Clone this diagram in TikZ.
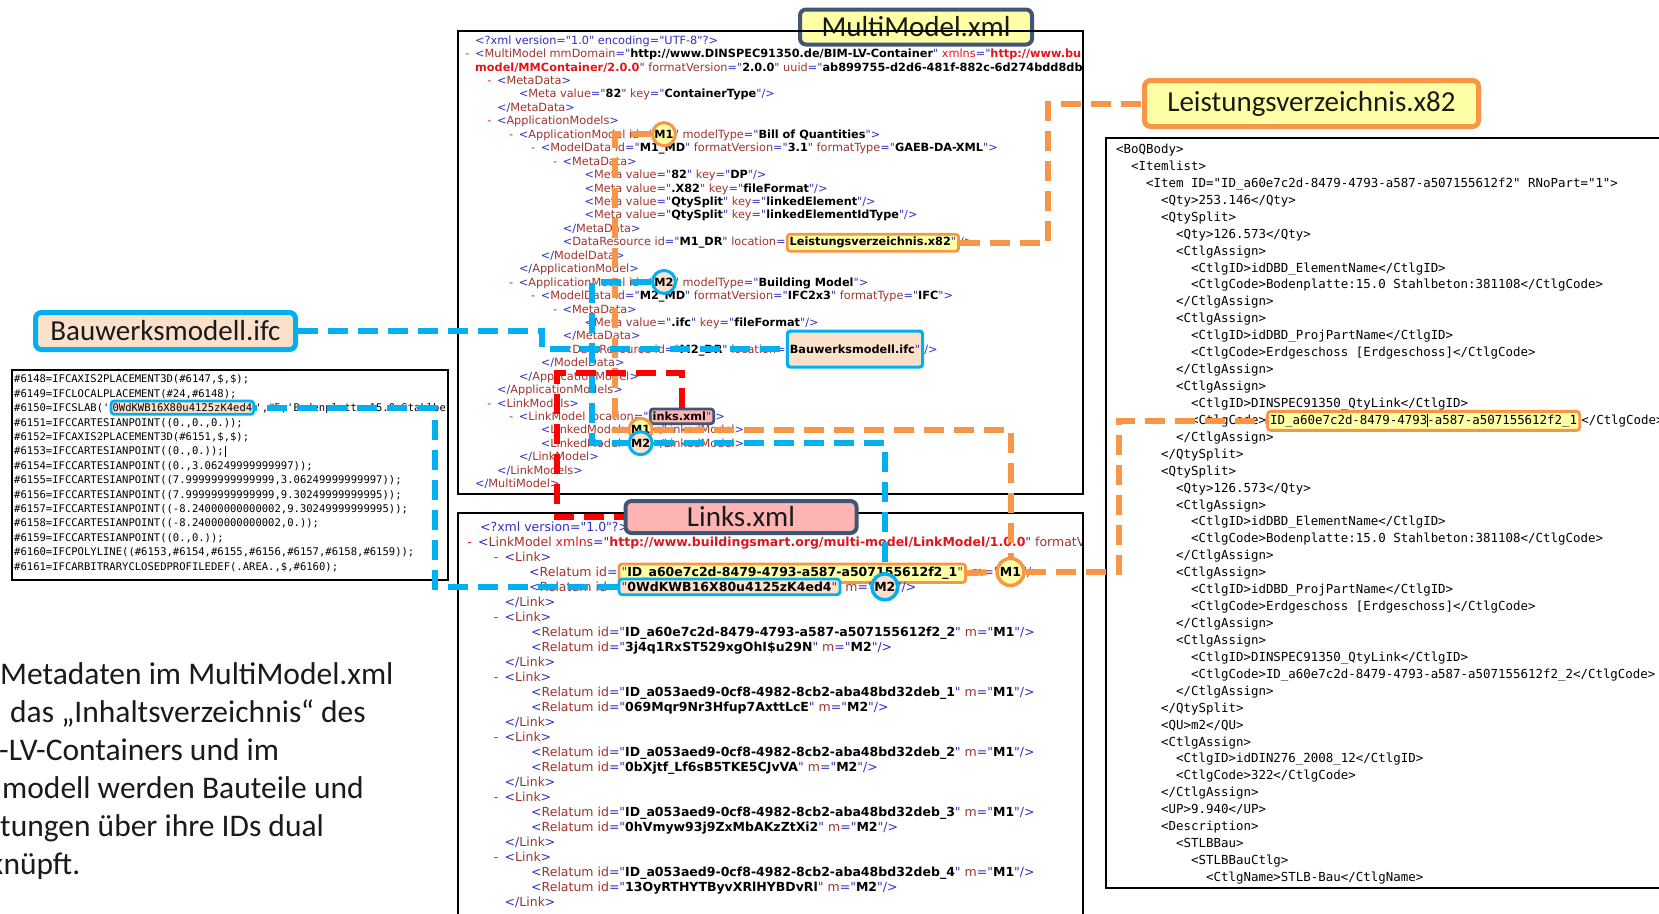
\documentclass[tikz,border=0pt]{standalone}
\usepackage{fontspec}
\setmainfont{Carlito}
\newfontfamily\xmlf{DejaVu Sans}[Ligatures={TeXOff,CommonOff}]
\newfontfamily\monof{DejaVu Sans Mono}[Ligatures={TeXOff,CommonOff}]

\definecolor{cOr}{HTML}{F79646}
\definecolor{cBl}{HTML}{00B0F0}
\definecolor{cRd}{HTML}{FF0000}
\definecolor{cSlate}{HTML}{3F5675}
\definecolor{cYel}{HTML}{FFFFA5}
\definecolor{cPeach}{HTML}{FBE1CB}
\definecolor{cPink}{HTML}{FFB4B4}
\definecolor{cInk}{HTML}{1A1A1A}
\definecolor{xbl}{HTML}{3030C0}
\definecolor{xrd}{HTML}{A0332E}
\definecolor{xns}{HTML}{E5141B}

% XML viewer syntax colouring
\newcommand\xBl[1]{\textcolor{xbl}{#1}}
\newcommand\xRd[1]{\textcolor{xrd}{#1}}
\newcommand\xV[1]{\textbf{#1}}
\newcommand\xNs[1]{\textcolor{xns}{\textbf{#1}}}
\newcommand\xMi{\textcolor{xns}{-}\hspace{0.5em}}
\newcommand\xO[1]{\xBl{<}\xRd{#1}}
\newcommand\xC[1]{\xBl{</}\xRd{#1}\xBl{>}}
\newcommand\xA[2]{\ \xRd{#1}\xBl{="}\xV{#2}\xBl{"}}
\newcommand\xG{\xBl{>}}
\newcommand\xE{\xBl{/>}}

\newcommand\fMM{\xmlf\fontsize{11.3}{13.4}\selectfont}
\newcommand\fMMb{\xmlf\bfseries\fontsize{11.3}{13.4}\selectfont}
\newcommand\fLK{\xmlf\fontsize{12.5}{15}\selectfont}
\newcommand\fLKb{\xmlf\bfseries\fontsize{12.5}{15}\selectfont}

\tikzset{
  mmt/.style={inner sep=0pt, anchor=base west, font=\fMM},
  lkt/.style={inner sep=0pt, anchor=base west, font=\fLK},
  ifct/.style={inner sep=0pt, anchor=base west, font=\monof\fontsize{10.55}{14.4}\selectfont},
  bqt/.style={inner sep=0pt, anchor=base west, font=\monof\fontsize{12.44}{16.9}\selectfont},
  para/.style={inner sep=0pt, anchor=base west, text=cInk, font=\fontsize{31.5}{38}\selectfont},
  hlbox/.style={rounded corners=3pt, line width=2.8pt, inner xsep=2.5pt, inner ysep=3pt, anchor=base west},
  hlor/.style={hlbox, draw=cOr, fill=cYel},
  hlbl/.style={hlbox, draw=cBl, fill=cPeach},
  hlsl/.style={hlbox, draw=cSlate, fill=cPink},
  ring/.style={circle, inner sep=0pt, line width=3pt},
  ringor/.style={ring, draw=cOr, fill=cYel},
  ringbl/.style={ring, draw=cBl, fill=cPeach},
  panel/.style={draw=black, line width=1.8pt},
  tag/.style={rounded corners=6pt, line width=4pt, text=cInk, inner sep=0pt,
              font=\fontsize{29}{34}\selectfont},
  link/.style={line width=6pt, dash pattern=on 20pt off 10pt},
  lkor/.style={link, draw=cOr},
  lkbl/.style={link, draw=cBl},
  lkrd/.style={link, draw=cRd},
}

% one line of code per panel: level, row, text
\newcommand\mmrow[3]{\node[mmt] at ({475+21.9*(#1)},{44.2+13.44*((#2)-1)}) {#3};}
\newcommand\mmrowd[3]{\node[mmt] at ({465.2+21.9*(#1)},{44.2+13.44*((#2)-1)}) {\xMi#3};}
\newcommand\lkrow[3]{\node[lkt] at ({478+26.5*(#1)},{531.5+15*((#2)-1)}) {#3};}
\newcommand\lkrowd[3]{\node[lkt] at ({467.2+26.5*(#1)},{531.5+15*((#2)-1)}) {\xMi#3};}
\newcommand\ifrow[2]{\node[ifct] at (14,{382.8+14.4*((#1)-1)}) {#2};}
\newcommand\bqrow[3]{\node[bqt] at ({1116+14.98*(#1)},{153.5+16.93*((#2)-1)}) {#3};}

\begin{document}
\begin{tikzpicture}[x=1pt,y=-1pt]
\useasboundingbox (0,0) rectangle (1659,913);
\fill[white] (0,0) rectangle (1659,913);

% ---------------- MultiModel.xml listing ----------------
\begin{scope}
\clip (458,31) rectangle (1083,494);
\mmrow{0}{1}{\xBl{<?xml version="1.0" encoding="UTF-8"?>}}
\mmrowd{0}{2}{\xO{MultiModel}\xA{mmDomain}{http://www.DINSPEC91350.de/BIM-LV-Container}\ \textcolor{xns}{xmlns}\xBl{="}\xNs{http://www.buildingsmart.org/multi-}}
\mmrow{0}{3}{\xNs{model/MMContainer/2.0.0}\xBl{"}\xA{formatVersion}{2.0.0}\xA{uuid}{ab899755-d2d6-481f-882c-6d274bdd8db3}\xBl{">}}
\mmrowd{1}{4}{\xO{MetaData}\xG}
\mmrow{2}{5}{\xO{Meta}\xA{value}{82}\xA{key}{ContainerType}\xE}
\mmrow{1}{6}{\xC{MetaData}}
\mmrowd{1}{7}{\xO{ApplicationModels}\xG}
\node[mmt] (r8a) at ({465.2+21.9*2},{44.2+13.44*7}) {\xMi\xO{ApplicationModel}\ \xRd{id}\xBl{="}};
\node[mmt] (r8m) at (r8a.base east) {\xV{M1}};
\node[mmt] at (r8m.base east) {\xBl{"}\xA{modelType}{Bill of Quantities}\xG};
\mmrowd{3}{9}{\xO{ModelData}\xA{id}{M1\_MD}\xA{formatVersion}{3.1}\xA{formatType}{GAEB-DA-XML}\xG}
\mmrowd{4}{10}{\xO{MetaData}\xG}
\mmrow{5}{11}{\xO{Meta}\xA{value}{82}\xA{key}{DP}\xE}
\mmrow{5}{12}{\xO{Meta}\xA{value}{.X82}\xA{key}{fileFormat}\xE}
\mmrow{5}{13}{\xO{Meta}\xA{value}{QtySplit}\xA{key}{linkedElement}\xE}
\mmrow{5}{14}{\xO{Meta}\xA{value}{QtySplit}\xA{key}{linkedElementIdType}\xE}
\mmrow{4}{15}{\xC{MetaData}}
\node[mmt] (r16a) at ({475+21.9*4},{44.2+13.44*15}) {\xO{DataResource}\xA{id}{M1\_DR}\ \xRd{location}\xBl{=}};
\node[mmt, hlor] (mmLV) at (r16a.base east) {\xV{Leistungsverzeichnis.x82}\xBl{"}};
\node[mmt] at (mmLV.base east) {\xE};
\mmrow{3}{17}{\xC{ModelData}}
\mmrow{2}{18}{\xC{ApplicationModel}}
\node[mmt] (r19a) at ({465.2+21.9*2},{44.2+13.44*18}) {\xMi\xO{ApplicationModel}\ \xRd{id}\xBl{="}};
\node[mmt] (r19m) at (r19a.base east) {\xV{M2}};
\node[mmt] at (r19m.base east) {\xBl{"}\xA{modelType}{Building Model}\xG};
\mmrowd{3}{20}{\xO{ModelData}\xA{id}{M2\_MD}\xA{formatVersion}{IFC2x3}\xA{formatType}{IFC}\xG}
\mmrowd{4}{21}{\xO{MetaData}\xG}
\mmrow{5}{22}{\xO{Meta}\xA{value}{.ifc}\xA{key}{fileFormat}\xE}
\mmrow{4}{23}{\xC{MetaData}}
\node[mmt] (r24a) at ({475+21.9*4},{44.2+13.44*23}) {\xO{DataResource}\xA{id}{M2\_DR}\ \xRd{location}\xBl{=}};
\node[mmt, hlbl, minimum height=36pt, line width=3.2pt] (mmBW) at (r24a.base east) {\xV{Bauwerksmodell.ifc}\xBl{"}};
\node[mmt] at (mmBW.base east) {\xE};
\mmrow{3}{25}{\xC{ModelData}}
\mmrow{2}{26}{\xC{ApplicationModel}}
\mmrow{1}{27}{\xC{ApplicationModels}}
\mmrowd{1}{28}{\xO{LinkModels}\xG}
\node[mmt] (r29a) at ({465.2+21.9*2},{44.2+13.44*28}) {\xMi\xO{LinkModel}\ \xRd{location}\xBl{="}};
\node[mmt, hlsl] (mmLK) at (r29a.base east) {\xV{inks.xml}\xBl{"}};
\node[mmt] at (mmLK.base east) {\xG};
\node[mmt] (r30a) at ({475+21.9*3},{44.2+13.44*29}) {\xO{LinkedModel}\xG};
\node[mmt] (r30m) at (r30a.base east) {\xV{M1}};
\node[mmt] at (r30m.base east) {\xC{LinkedModel}};
\node[mmt] (r31a) at ({475+21.9*3},{44.2+13.44*30}) {\xO{LinkedModel}\xG};
\node[mmt] (r31m) at (r31a.base east) {\xV{M2}};
\node[mmt] at (r31m.base east) {\xC{LinkedModel}};
\mmrow{2}{32}{\xC{LinkModel}}
\mmrow{1}{33}{\xC{LinkModels}}
\mmrow{0}{34}{\xC{MultiModel}}
\end{scope}

% ---------------- Links.xml listing ----------------
\begin{scope}
\clip (458,513) rectangle (1083,913);
\node[lkt] at (480,531.5) {\xBl{<?xml version="1.0"?>}};
\lkrowd{0}{2}{\xO{LinkModel}\ \textcolor{xns}{xmlns}\xBl{="}\xNs{http://www.buildingsmart.org/multi-model/LinkModel/1.0.0}\xBl{"}\xA{formatVersion}{1.0}}
\lkrowd{1}{3}{\xO{Link}\xG}
\node[lkt] (k4a) at ({476+26.5*2},{531.5+15*3}) {\xO{Relatum}\ \xRd{id}\xBl{=}};
\node[lkt, hlor] (lkID1) at (k4a.base east) {\xBl{"}\xV{ID\_a60e7c2d-8479-4793-a587-a507155612f2\_1}\xBl{"}};
\node[lkt] (k4b) at (lkID1.base east) {\ \xRd{m}\xBl{="}};
\node[lkt] (k4m) at (k4b.base east) {\xV{M1}};
\node[lkt] at (k4m.base east) {\xBl{"/>}};
\node[lkt] (k5a) at ({476+26.5*2},{531.5+15*4}) {\xO{Relatum}\ \xRd{id}\xBl{=}};
\node[lkt, hlbl] (lkID2) at (k5a.base east) {\xBl{"}\xV{0WdKWB16X80u4125zK4ed4}\xBl{"}};
\node[lkt] (k5b) at (lkID2.base east) {\ \xRd{m}\xBl{="}};
\node[lkt] (k5m) at (k5b.base east) {\xV{M2}};
\node[lkt] at (k5m.base east) {\xBl{"/>}};
\lkrow{1}{6}{\xC{Link}}
\lkrowd{1}{7}{\xO{Link}\xG}
\lkrow{2}{8}{\xO{Relatum}\xA{id}{ID\_a60e7c2d-8479-4793-a587-a507155612f2\_2}\xA{m}{M1}\xE}
\lkrow{2}{9}{\xO{Relatum}\xA{id}{3j4q1RxST529xgOhI\$u29N}\xA{m}{M2}\xE}
\lkrow{1}{10}{\xC{Link}}
\lkrowd{1}{11}{\xO{Link}\xG}
\lkrow{2}{12}{\xO{Relatum}\xA{id}{ID\_a053aed9-0cf8-4982-8cb2-aba48bd32deb\_1}\xA{m}{M1}\xE}
\lkrow{2}{13}{\xO{Relatum}\xA{id}{069Mqr9Nr3Hfup7AxttLcE}\xA{m}{M2}\xE}
\lkrow{1}{14}{\xC{Link}}
\lkrowd{1}{15}{\xO{Link}\xG}
\lkrow{2}{16}{\xO{Relatum}\xA{id}{ID\_a053aed9-0cf8-4982-8cb2-aba48bd32deb\_2}\xA{m}{M1}\xE}
\lkrow{2}{17}{\xO{Relatum}\xA{id}{0bXjtf\_Lf6sB5TKE5CJvVA}\xA{m}{M2}\xE}
\lkrow{1}{18}{\xC{Link}}
\lkrowd{1}{19}{\xO{Link}\xG}
\lkrow{2}{20}{\xO{Relatum}\xA{id}{ID\_a053aed9-0cf8-4982-8cb2-aba48bd32deb\_3}\xA{m}{M1}\xE}
\lkrow{2}{21}{\xO{Relatum}\xA{id}{0hVmyw93j9ZxMbAKzZtXi2}\xA{m}{M2}\xE}
\lkrow{1}{22}{\xC{Link}}
\lkrowd{1}{23}{\xO{Link}\xG}
\lkrow{2}{24}{\xO{Relatum}\xA{id}{ID\_a053aed9-0cf8-4982-8cb2-aba48bd32deb\_4}\xA{m}{M1}\xE}
\lkrow{2}{25}{\xO{Relatum}\xA{id}{13OyRTHYTByvXRlHYBDvRl}\xA{m}{M2}\xE}
\lkrow{1}{26}{\xC{Link}}
\end{scope}

% ---------------- IFC listing ----------------
\begin{scope}
\clip (12,370) rectangle (448,580);
\ifrow{1}{\#6148=IFCAXIS2PLACEMENT3D(\#6147,\$,\$);}
\ifrow{2}{\#6149=IFCLOCALPLACEMENT(\#24,\#6148);}
\node[ifct] (i3a) at (14,{382.8+14.4*2}) {\#6150=IFCSLAB('};
\node[ifct, hlbl, inner xsep=1.5pt, inner ysep=2.5pt] (ifcID) at (i3a.base east) {0WdKWB16X80u4125zK4ed4};
\node[ifct] at (ifcID.base east) {',\#5,'Bodenplatte:15.0 Stahlbeton:381108',\$,\$,\$,};
\ifrow{4}{\#6151=IFCCARTESIANPOINT((0.,0.,0.));}
\ifrow{5}{\#6152=IFCAXIS2PLACEMENT3D(\#6151,\$,\$);}
\ifrow{6}{\#6153=IFCCARTESIANPOINT((0.,0.));\kern1pt\rule[-2.5pt]{0.6pt}{11pt}}
\ifrow{7}{\#6154=IFCCARTESIANPOINT((0.,3.06249999999997));}
\ifrow{8}{\#6155=IFCCARTESIANPOINT((7.99999999999999,3.06249999999997));}
\ifrow{9}{\#6156=IFCCARTESIANPOINT((7.99999999999999,9.30249999999995));}
\ifrow{10}{\#6157=IFCCARTESIANPOINT((-8.24000000000002,9.30249999999995));}
\ifrow{11}{\#6158=IFCCARTESIANPOINT((-8.24000000000002,0.));}
\ifrow{12}{\#6159=IFCCARTESIANPOINT((0.,0.));}
\ifrow{13}{\#6160=IFCPOLYLINE((\#6153,\#6154,\#6155,\#6156,\#6157,\#6158,\#6159));}
\ifrow{14}{\#6161=IFCARBITRARYCLOSEDPROFILEDEF(.AREA.,\$,\#6160);}
\end{scope}

% ---------------- GAEB listing ----------------
\begin{scope}
\clip (1106,138) rectangle (1659,888);
\bqrow{0}{1}{<BoQBody>}
\bqrow{1}{2}{<Itemlist>}
\bqrow{2}{3}{<Item ID="ID\_a60e7c2d-8479-4793-a587-a507155612f2" RNoPart="1">}
\bqrow{3}{4}{<Qty>253.146</Qty>}
\bqrow{3}{5}{<QtySplit>}
\bqrow{4}{6}{<Qty>126.573</Qty>}
\bqrow{4}{7}{<CtlgAssign>}
\bqrow{5}{8}{<CtlgID>idDBD\_ElementName</CtlgID>}
\bqrow{5}{9}{<CtlgCode>Bodenplatte:15.0 Stahlbeton:381108</CtlgCode>}
\bqrow{4}{10}{</CtlgAssign>}
\bqrow{4}{11}{<CtlgAssign>}
\bqrow{5}{12}{<CtlgID>idDBD\_ProjPartName</CtlgID>}
\bqrow{5}{13}{<CtlgCode>Erdgeschoss [Erdgeschoss]</CtlgCode>}
\bqrow{4}{14}{</CtlgAssign>}
\bqrow{4}{15}{<CtlgAssign>}
\bqrow{5}{16}{<CtlgID>DINSPEC91350\_QtyLink</CtlgID>}
\node[bqt] (b17a) at ({1116+14.98*5},{153.5+16.93*16}) {<CtlgCode>};
\node[bqt, hlor] (boqID) at (b17a.base east) {ID\_a60e7c2d-8479-4793\rule[-3pt]{0.8pt}{13pt}\kern-0.8pt -a587-a507155612f2\_1};
\node[bqt] at (boqID.base east) {</CtlgCode>};
\bqrow{4}{18}{</CtlgAssign>}
\bqrow{3}{19}{</QtySplit>}
\bqrow{3}{20}{<QtySplit>}
\bqrow{4}{21}{<Qty>126.573</Qty>}
\bqrow{4}{22}{<CtlgAssign>}
\bqrow{5}{23}{<CtlgID>idDBD\_ElementName</CtlgID>}
\bqrow{5}{24}{<CtlgCode>Bodenplatte:15.0 Stahlbeton:381108</CtlgCode>}
\bqrow{4}{25}{</CtlgAssign>}
\bqrow{4}{26}{<CtlgAssign>}
\bqrow{5}{27}{<CtlgID>idDBD\_ProjPartName</CtlgID>}
\bqrow{5}{28}{<CtlgCode>Erdgeschoss [Erdgeschoss]</CtlgCode>}
\bqrow{4}{29}{</CtlgAssign>}
\bqrow{4}{30}{<CtlgAssign>}
\bqrow{5}{31}{<CtlgID>DINSPEC91350\_QtyLink</CtlgID>}
\bqrow{5}{32}{<CtlgCode>ID\_a60e7c2d-8479-4793-a587-a507155612f2\_2</CtlgCode>}
\bqrow{4}{33}{</CtlgAssign>}
\bqrow{3}{34}{</QtySplit>}
\bqrow{3}{35}{<QU>m2</QU>}
\bqrow{3}{36}{<CtlgAssign>}
\bqrow{4}{37}{<CtlgID>idDIN276\_2008\_12</CtlgID>}
\bqrow{4}{38}{<CtlgCode>322</CtlgCode>}
\bqrow{3}{39}{</CtlgAssign>}
\bqrow{3}{40}{<UP>9.940</UP>}
\bqrow{3}{41}{<Description>}
\bqrow{4}{42}{<STLBBau>}
\bqrow{5}{43}{<STLBBauCtlg>}
\bqrow{6}{44}{<CtlgName>STLB-Bau</CtlgName>}
\end{scope}

% ---------------- model id rings ----------------
\node[ringor, font=\fMMb, minimum size=23pt] (mmM1) at (r8m.center) {M1};
\node[ringbl, font=\fMMb, minimum size=23pt] (mmM2) at (r19m.center) {M2};
\node[ringor, font=\fMMb, minimum size=23pt] (mmM1b) at (r30m.center) {M1};
\node[ringbl, font=\fMMb, minimum size=23pt] (mmM2b) at (r31m.center) {M2};
\node[ringor, font=\fLKb, minimum size=27pt, line width=3.5pt] (lkM1) at (k4m.center) {M1};
\node[ringbl, font=\fLKb, minimum size=26pt, line width=3.5pt] (lkM2) at (k5m.center) {M2};

% ---------------- file labels and panels ----------------
\node[tag, draw=cSlate, fill=cYel, minimum width=232pt, minimum height=35pt] (lblMM) at (916,27) {MultiModel.xml};
\draw[panel] (458,31) rectangle (1083,494);
\draw[panel] (458,513) rectangle (1083,930);
\draw[panel] (12,370) rectangle (448,580);
\draw[panel] (1106,138) rectangle (1680,888);
\node[tag, draw=cOr, fill=cYel, line width=5pt, minimum width=334pt, minimum height=46pt] (lblLV) at (1311.5,103.5) {Leistungsverzeichnis.x82};
\node[tag, draw=cBl, fill=cPeach, line width=5pt, minimum width=260pt, minimum height=37pt] (lblBW) at (165.5,331) {Bauwerksmodell.ifc};
\node[tag, draw=cSlate, fill=cPink, minimum width=231pt, minimum height=32pt] (lblLK) at (741,517) {Links.xml};

% ---------------- dashed cross references ----------------
\coordinate (ocA) at (1048,0);
\coordinate (ocB) at (615,0);
\coordinate (ocC) at (1119,0);
\coordinate (bcA) at (542,0);
\coordinate (bcB) at (592,0);
\coordinate (bcC) at (435,0);
\coordinate (rcN) at (557,373);

\draw[lkor] (mmLV.east) -- (mmLV.east -| ocA) |- (lblLV.west);
\draw[lkor] (mmM1.west) -- (mmM1.west -| ocB) |- (mmM1b.west);
\draw[lkor] (mmM1b.east) -| (lkM1.north);
\draw[lkor] (lkID1.east) -- (lkM1.west);
\draw[lkor] (lkM1.east) -- (lkM1.east -| ocC) |- (boqID.west);
\draw[lkbl] (lblBW.east) -- (lblBW.east -| bcA) |- (mmBW.west);
\draw[lkbl] (mmM2.west) -- (mmM2.west -| bcB) |- (mmM2b.west);
\draw[lkbl] (mmM2b.east) -| (lkM2.north);
\draw[lkbl] (lkID2.west) -- (lkID2.west -| bcC) |- (ifcID.east);
\draw[lkrd] (mmLK.north) |- (rcN) |- (lblLK.west);

% ---------------- explanatory paragraph ----------------
\node[para] (p1) at (0,684) {Metadaten im MultiModel.xml};
\node[para] (p2) at (10,722) {das „Inhaltsverzeichnis“ des};
\node[para] (p3) at (-1,760) {-LV-Containers und im};
\node[para] (p4) at (2,798) {modell werden Bauteile und};
\node[para] (p5) at (0,836) {tungen über ihre IDs dual};
\node[para] (p6) at (-11,874) {knüpft.};
\end{tikzpicture}
\end{document}
